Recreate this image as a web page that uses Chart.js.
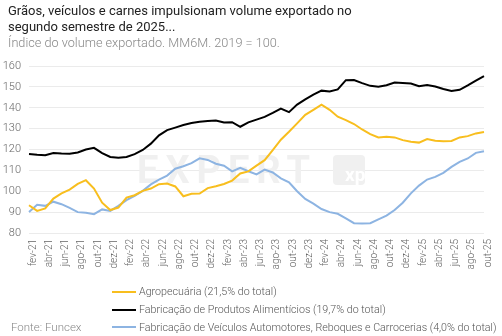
<!DOCTYPE html>
<html><head><meta charset="utf-8">
<script src="https://cdn.jsdelivr.net/npm/chart.js@4.4.0/dist/chart.umd.min.js"></script>
<style>
html,body{margin:0;padding:0;background:#fff;}
#wrap{position:relative;width:502px;height:336px;overflow:hidden;font-family:Roboto,sans-serif;}
#c{position:absolute;left:0;top:0;}
#title{position:absolute;left:8px;top:3px;font-size:13px;line-height:16px;color:#222;white-space:nowrap;}
#sub{position:absolute;left:8px;top:35px;font-size:12.7px;line-height:15px;color:#888;font-weight:300;white-space:nowrap;}
#src{position:absolute;left:11px;top:319px;font-size:11.5px;line-height:16px;color:#888;font-weight:300;}
#legend{position:absolute;left:112px;top:283px;font-size:10.7px;color:#555;font-weight:300;}
.li{height:17.8px;display:flex;align-items:center;white-space:nowrap;}
.sw{width:24px;height:2px;margin-right:3px;}
</style></head>
<body><div id="wrap">
<canvas id="c" width="502" height="336"></canvas>
<div id="title">Grãos, veículos e carnes impulsionam volume exportado no<br>segundo semestre de 2025...</div>
<div id="sub">Índice do volume exportado. MM6M. 2019 = 100.</div>
<div id="src">Fonte: Funcex</div>
<div id="legend"></div>
</div>
<script>
const months = ['fev-21','mar-21','abr-21','mai-21','jun-21','jul-21','ago-21','set-21','out-21','nov-21','dez-21',
'jan-22','fev-22','mar-22','abr-22','mai-22','jun-22','jul-22','ago-22','set-22','out-22','nov-22','dez-22',
'jan-23','fev-23','mar-23','abr-23','mai-23','jun-23','jul-23','ago-23','set-23','out-23','nov-23','dez-23',
'jan-24','fev-24','mar-24','abr-24','mai-24','jun-24','jul-24','ago-24','set-24','out-24','nov-24','dez-24',
'jan-25','fev-25','mar-25','abr-25','mai-25','jun-25','jul-25','ago-25','set-25','out-25'];

const seriesNames = ['Agropecuária (21,5% do total)',
  'Fabricação de Produtos Alimentícios (19,7% do total)',
  'Fabricação de Veículos Automotores, Reboques e Carrocerias (4,0% do total)'];

const agropecuaria = [93.3,90.6,91.8,96.5,99.0,100.8,103.5,105.3,101.3,94.5,91.0,92.2,97.0,98.1,100.2,101.3,103.4,103.7,102.3,97.6,98.8,98.9,101.5,102.4,103.5,105.1,108.5,109.5,112.3,114.9,119.7,124.7,128.5,132.5,136.6,139.0,141.5,139.0,135.7,134.1,132.2,129.6,127.4,125.8,126.1,125.8,124.5,123.7,123.3,125.0,124.2,123.9,124.1,125.8,126.4,127.7,128.4];

const alimentos = [117.8,117.5,117.3,118.3,118.1,118.0,118.6,120.0,120.8,118.3,116.4,116.1,116.4,117.8,119.8,122.8,126.8,129.3,130.5,131.7,132.7,133.3,133.6,133.9,132.9,133.1,130.9,133.0,134.3,135.6,137.5,139.6,137.9,141.5,144.0,146.3,148.2,147.8,148.8,153.2,153.3,151.8,150.5,150.1,150.8,152.1,151.9,151.6,150.3,150.9,150.2,149.0,148.0,148.6,150.7,153.0,155.2];

const veiculos = [90.1,93.5,93.0,95.0,93.8,92.0,90.0,89.7,89.0,91.3,90.6,93.0,95.7,97.8,100.2,103.3,105.6,107.5,110.8,112.0,113.5,115.8,115.0,113.2,112.2,109.5,111.2,109.6,108.1,110.4,109.0,106.2,104.3,100.0,96.3,94.1,91.5,90.0,89.2,87.0,84.7,84.5,84.7,86.5,88.3,91.0,94.5,99.0,102.7,105.6,106.9,108.8,111.7,114.1,115.7,118.4,119.2];

const yTicks = [80,90,100,110,120,130,140,150,160];
const colors = ['#F8BE1E','#000000','#8DB4E2'];
const seriesData = [agropecuaria, alimentos, veiculos];

const watermark = {
  id:'wm',
  beforeDatasetsDraw(chart){
    const {ctx, chartArea:a} = chart;
    ctx.save();
    ctx.fillStyle = '#f0f0f0';
    ctx.font = 'bold 38px Roboto, sans-serif';
    ctx.letterSpacing = '7px';
    ctx.textBaseline = 'alphabetic';
    ctx.fillText('EXPERT', a.left + 108, a.top + 117);
    ctx.letterSpacing = '0px';
    const bx = a.left + 304, by = a.top + 89;
    ctx.beginPath();
    ctx.roundRect(bx, by, 32, 30, 4);
    ctx.fill();
    ctx.fillStyle = '#ffffff';
    ctx.font = 'bold 19px Roboto, sans-serif';
    ctx.fillText('xp', bx + 12, by + 26);
    ctx.restore();
  }
};

const chart = new Chart(document.getElementById('c'), {
  type:'line',
  data:{
    labels: months,
    datasets: seriesData.map((d,i)=>({
      label: seriesNames[i], data: d, borderColor: colors[i], backgroundColor: colors[i],
      borderWidth: 2, pointRadius: 0, tension: 0, fill:false
    }))
  },
  options:{
    responsive:false, animation:false,
    layout:{padding:{top:66,left:0,right:11,bottom:63}},
    plugins:{legend:{display:false}, tooltip:{enabled:false}},
    scales:{
      x:{
        offset:false,
        grid:{display:false, drawTicks:false},
        border:{display:false},
        ticks:{autoSkip:false, minRotation:90, maxRotation:90, padding:6, labelOffset:4,
          color:'#666', font:{family:'Roboto', size:10, weight:300},
          callback:(v,i)=> i%2===0 ? months[i] : ''},
        afterFit: s => { s.height = 40; }
      },
      y:{
        min:80, max:160,
        afterBuildTicks: s => { s.ticks = yTicks.map(v=>({value:v})); },
        grid:{color:'#ebebeb', lineWidth:1, drawTicks:false},
        border:{display:false},
        ticks:{padding:8, color:'#666', font:{family:'Roboto', size:11, weight:300}},
        afterFit: s => { s.width = 29; }
      }
    }
  },
  plugins:[watermark]
});

const lg = document.getElementById('legend');
seriesNames.forEach((n,i)=>{
  const row = document.createElement('div'); row.className='li';
  const sw = document.createElement('span'); sw.className='sw'; sw.style.background = colors[i];
  const t = document.createElement('span'); t.textContent = n;
  row.appendChild(sw); row.appendChild(t); lg.appendChild(row);
});
</script>
</body></html>
